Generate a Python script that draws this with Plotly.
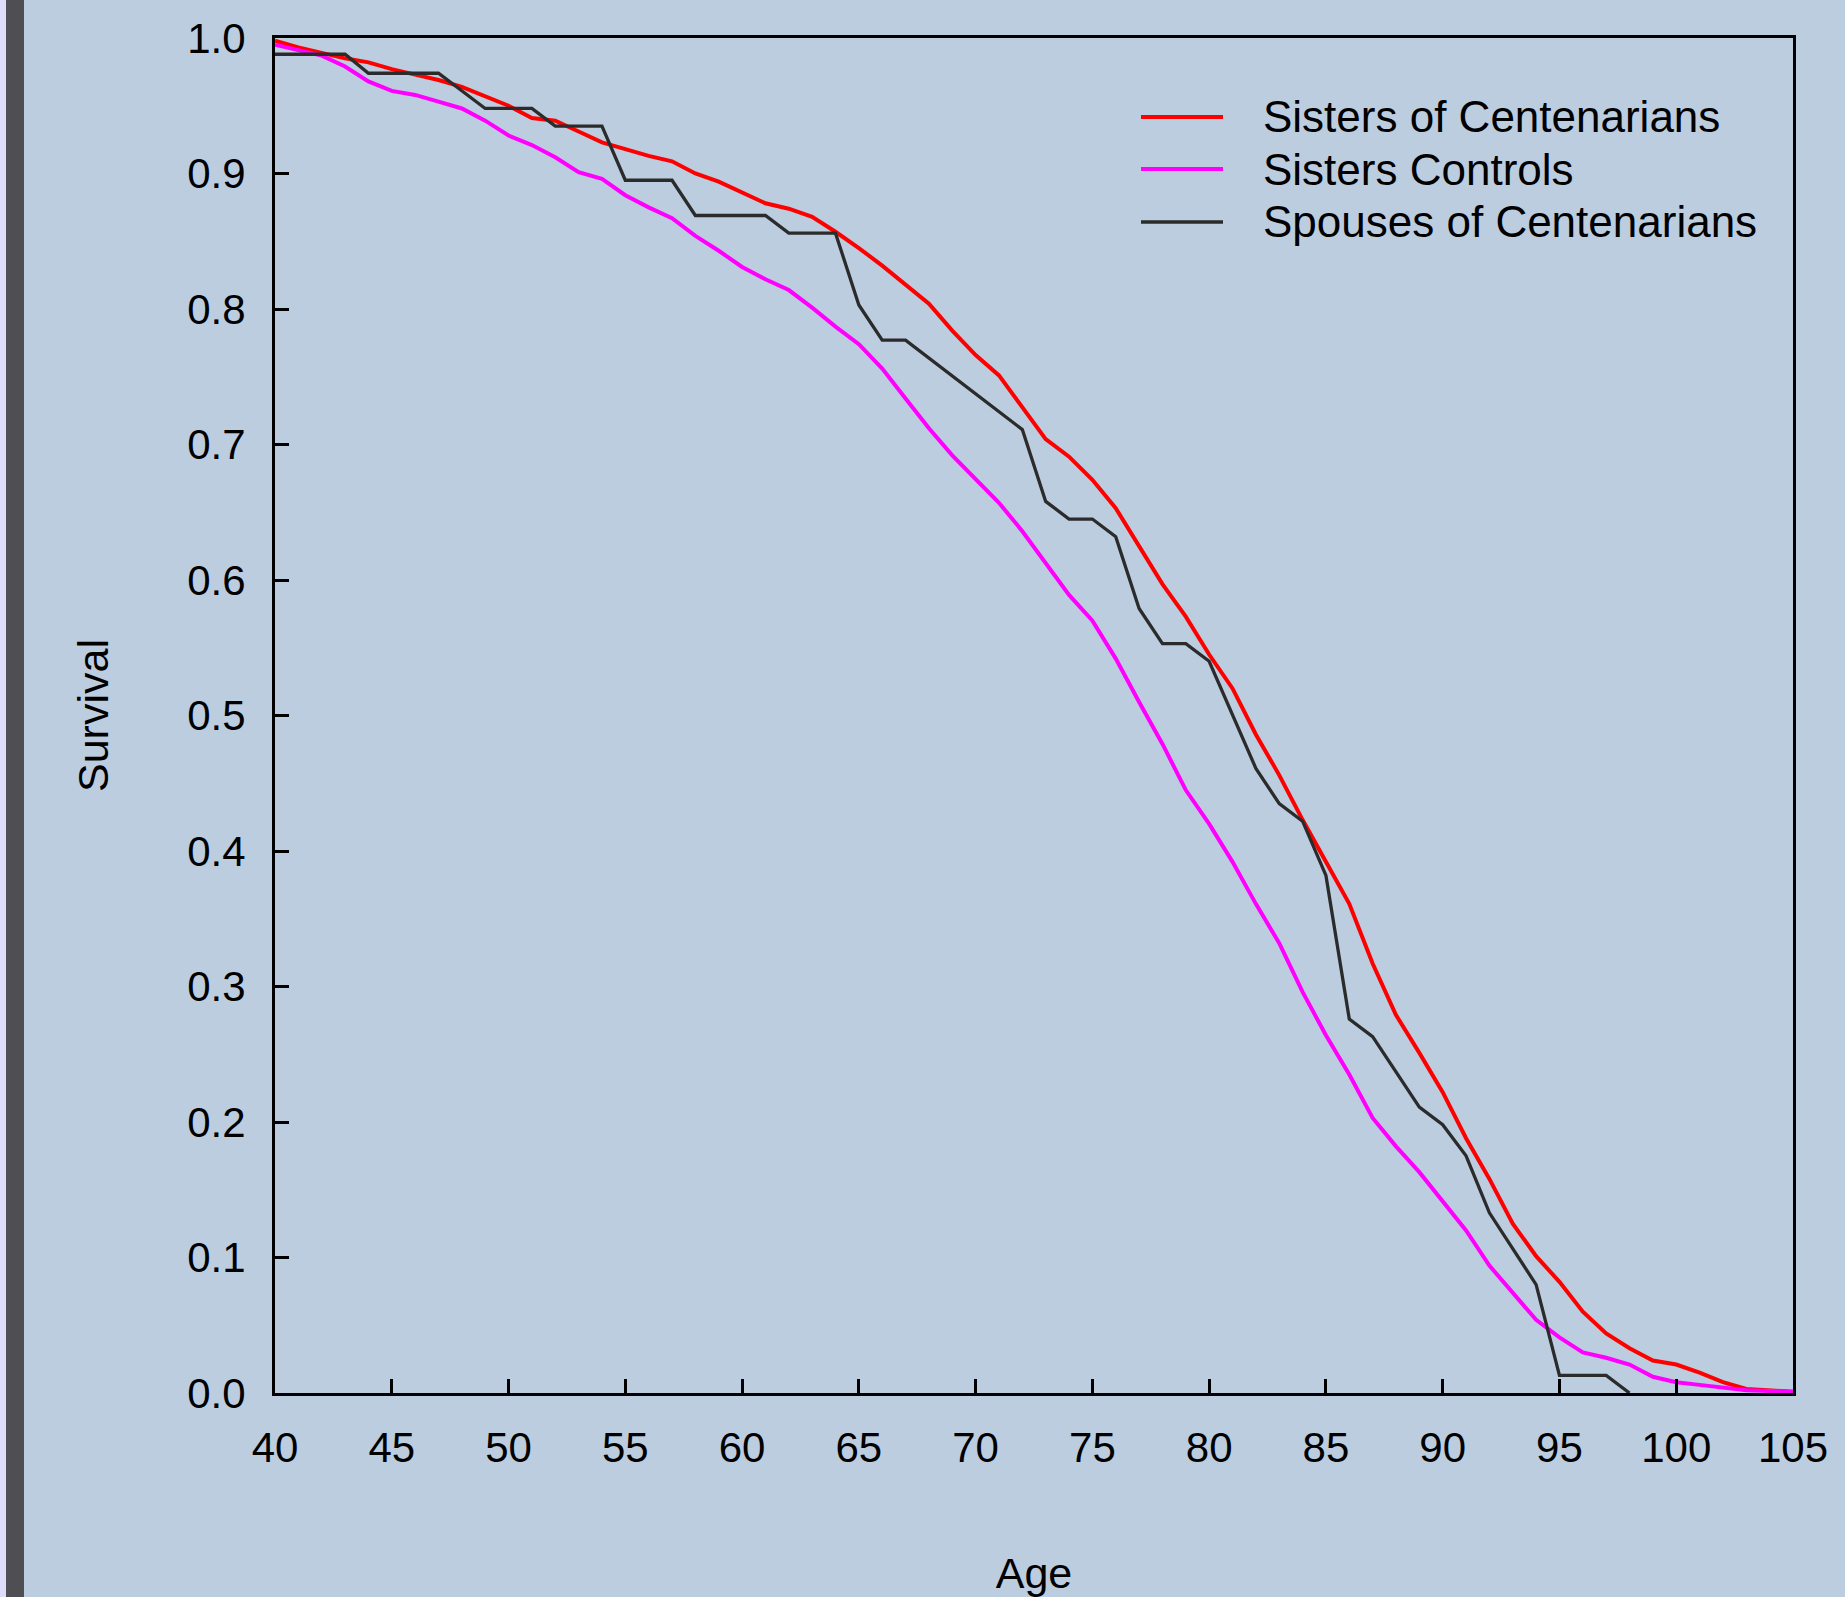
import plotly.graph_objects as go

# ---------------- data ----------------
ages = list(range(40, 106))

sisters_of_centenarians = [
    0.998, 0.993, 0.989, 0.985, 0.982, 0.977, 0.973, 0.969, 0.964, 0.957,
    0.950, 0.941, 0.939, 0.931, 0.923, 0.918, 0.913, 0.909, 0.900, 0.894,
    0.886, 0.878, 0.874, 0.868, 0.857, 0.845, 0.832, 0.818, 0.804, 0.784,
    0.766, 0.751, 0.728, 0.704, 0.691, 0.674, 0.653, 0.625, 0.597, 0.573,
    0.545, 0.520, 0.486, 0.456, 0.423, 0.392, 0.361, 0.317, 0.279, 0.251,
    0.222, 0.188, 0.158, 0.125, 0.101, 0.082, 0.060, 0.044, 0.033, 0.024,
    0.021, 0.015, 0.008, 0.003, 0.002, 0.001,
]

sisters_controls = [
    0.995, 0.991, 0.987, 0.979, 0.968, 0.961, 0.958, 0.953, 0.948, 0.939,
    0.928, 0.921, 0.912, 0.901, 0.896, 0.884, 0.875, 0.867, 0.854, 0.843,
    0.831, 0.822, 0.814, 0.801, 0.787, 0.774, 0.756, 0.734, 0.712, 0.692,
    0.674, 0.657, 0.636, 0.613, 0.589, 0.570, 0.542, 0.510, 0.479, 0.445,
    0.420, 0.392, 0.361, 0.332, 0.296, 0.264, 0.235, 0.203, 0.182, 0.163,
    0.142, 0.120, 0.094, 0.074, 0.054, 0.041, 0.030, 0.026, 0.021, 0.012,
    0.008, 0.006, 0.004, 0.002, 0.0015, 0.001,
]

spouses_ages = [40, 43, 44, 47, 49, 51, 52, 54, 55, 57, 58, 61, 62, 64, 65, 66,
                67, 72, 73, 74, 75, 76, 77, 78, 79, 80, 82, 83, 84, 85, 86, 87,
                89, 90, 91, 92, 94, 95, 97, 98]
spouses_of_centenarians = [0.988, 0.988, 0.974, 0.974, 0.948, 0.948, 0.935, 0.935,
                           0.895, 0.895, 0.869, 0.869, 0.856, 0.856, 0.803, 0.777,
                           0.777, 0.711, 0.658, 0.645, 0.645, 0.632, 0.579, 0.553,
                           0.553, 0.540, 0.461, 0.435, 0.422, 0.382, 0.276, 0.263,
                           0.211, 0.198, 0.175, 0.133, 0.080, 0.013, 0.013, 0.0]

series_names = ["Sisters of Centenarians", "Sisters Controls", "Spouses of Centenarians"]
series_colors = ["#ff0000", "#ff00ff", "#2b2b2b"]
series_widths = [4, 4, 3.3]

x_ticks = list(range(40, 106, 5))
y_ticks = [i / 10 for i in range(0, 11)]

# ---------------- figure ----------------
W, H = 1845, 1597
ML, MR, MT, MB = 275, 52, 38, 204
PW, PH = W - ML - MR, H - MT - MB
BG = "#bccde0"
FONT = "Liberation Sans, Arial, Helvetica, sans-serif"


def px_x(px):
    return (px - ML) / PW


def px_y(py):
    return 1 - (py - MT) / PH


fig = go.Figure()
fig.add_trace(go.Scatter(x=ages, y=sisters_of_centenarians, mode="lines",
                         name=series_names[0],
                         line=dict(color=series_colors[0], width=series_widths[0])))
fig.add_trace(go.Scatter(x=ages, y=sisters_controls, mode="lines",
                         name=series_names[1],
                         line=dict(color=series_colors[1], width=series_widths[1])))
fig.add_trace(go.Scatter(x=spouses_ages, y=spouses_of_centenarians, mode="lines",
                         name=series_names[2],
                         line=dict(color=series_colors[2], width=series_widths[2])))

axis_common = dict(
    showgrid=False, zeroline=False,
    showline=True, linecolor="black", linewidth=3, mirror=True,
    ticks="inside", ticklen=14, tickwidth=2.5, tickcolor="black",
    tickfont=dict(family=FONT, size=42, color="black"),
)

fig.update_xaxes(range=[40, 105], tickmode="array", tickvals=x_ticks,
                 ticklabelstandoff=16,
                 title=dict(text="Age", font=dict(family=FONT, size=43, color="black"),
                            standoff=104),
                 **axis_common)
fig.update_yaxes(range=[0, 1], tickmode="array", tickvals=y_ticks,
                 ticktext=[f"{v:.1f}" for v in y_ticks],
                 ticklabelstandoff=18,
                 title=dict(text="Survival", font=dict(family=FONT, size=43, color="black"),
                            standoff=66),
                 **axis_common)

# custom legend (long line samples as in the original)
shapes = []
annotations = []
legend_rows = [117, 169, 222]
for name, color, width, row in zip(series_names, series_colors, series_widths, legend_rows):
    shapes.append(dict(type="line", xref="paper", yref="paper",
                       x0=px_x(1141), x1=px_x(1223), y0=px_y(row), y1=px_y(row),
                       line=dict(color=color, width=width)))
    annotations.append(dict(text=name, xref="paper", yref="paper",
                            x=px_x(1261), y=px_y(row), xanchor="left", yanchor="middle",
                            showarrow=False,
                            font=dict(family=FONT, size=44, color="black")))

# left page edge decoration
shapes.append(dict(type="rect", xref="paper", yref="paper",
                   x0=px_x(-2), x1=px_x(6), y0=-0.3, y1=1.3,
                   fillcolor="#dedcfb", line=dict(width=0), layer="above"))
shapes.append(dict(type="rect", xref="paper", yref="paper",
                   x0=px_x(6), x1=px_x(24), y0=-0.3, y1=1.3,
                   fillcolor="#4f4f53", line=dict(width=0), layer="above"))

fig.update_layout(
    width=W, height=H,
    margin=dict(l=ML, r=MR, t=MT, b=MB, autoexpand=False),
    paper_bgcolor=BG, plot_bgcolor=BG,
    showlegend=False,
    shapes=shapes, annotations=annotations,
    font=dict(family=FONT, color="black"),
)

fig.write_html("out.html",
               config={"displayModeBar": False},
               post_script="document.body.style.margin='0';document.body.style.overflow='hidden';")
